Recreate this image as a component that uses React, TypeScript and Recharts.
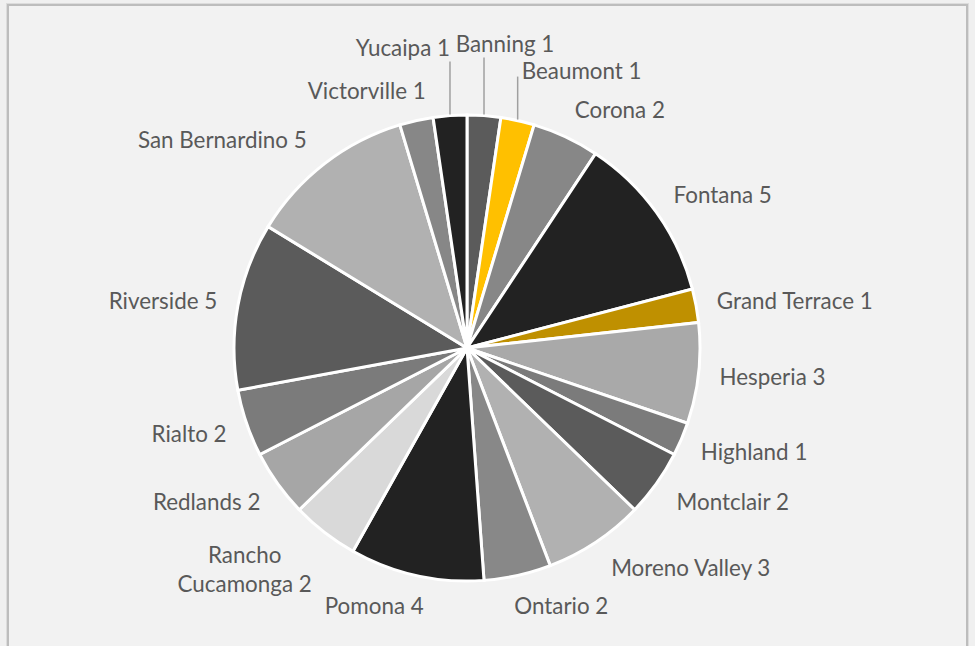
import React from 'react';
import { PieChart, Pie, Cell } from 'recharts';

const cities = [
  'Banning', 'Beaumont', 'Corona', 'Fontana', 'Grand Terrace', 'Hesperia', 'Highland',
  'Montclair', 'Moreno Valley', 'Ontario', 'Pomona', 'Rancho Cucamonga', 'Redlands',
  'Rialto', 'Riverside', 'San Bernardino', 'Victorville', 'Yucaipa',
];
const counts = [1, 1, 2, 5, 1, 3, 1, 2, 3, 2, 4, 2, 2, 2, 5, 5, 1, 1];
const sliceColors = [
  '#5b5b5b', '#ffc000', '#878787', '#222222', '#bf9000', '#a9a9a9', '#7b7b7b',
  '#5b5b5b', '#b1b1b1', '#888888', '#222222', '#d9d9d9', '#a6a6a6',
  '#7b7b7b', '#5b5b5b', '#b1b1b1', '#878787', '#222222',
];
const wrappedNames: Record<string, string[]> = { 'Rancho Cucamonga': ['Rancho', 'Cucamonga'] };

const data = cities.map((name, i) => ({ name, value: counts[i] }));

// label layout config (not data)
const FONT_FAMILY = 'Lato, sans-serif';
const FONT_SIZE = 22.4;
const LINE_H = 29;
const GAP = 21;
const TEXT_COLOR = '#595959';
const nudges: Record<string, number> = { Victorville: 14, Ontario: -8, Pomona: 12, 'San Bernardino': -5, 'Moreno Valley': 4, Montclair: 3 };
const leaders: Record<string, { lift: number; anchor: 'start' | 'middle' | 'end'; dx: number; gap: number }> = {
  Yucaipa: { lift: 68, anchor: 'end', dx: 0, gap: 14 },
  Banning: { lift: 72, anchor: 'middle', dx: 21, gap: 14 },
  Beaumont: { lift: 50, anchor: 'start', dx: 4, gap: 6 },
};

const RAD = Math.PI / 180;

let ctx: CanvasRenderingContext2D | null = null;
function measure(text: string): number {
  if (!ctx && typeof document !== 'undefined') {
    ctx = document.createElement('canvas').getContext('2d');
  }
  if (!ctx) return text.length * FONT_SIZE * 0.5;
  ctx.font = `${FONT_SIZE}px ${FONT_FAMILY}`;
  return ctx.measureText(text).width;
}

const renderLabel = (props: any) => {
  const { cx, cy, midAngle, outerRadius, index } = props;
  const name = cities[index];
  const value = counts[index];
  const c = Math.cos(-midAngle * RAD);
  const s = Math.sin(-midAngle * RAD);
  const textProps = {
    fill: TEXT_COLOR,
    fontFamily: FONT_FAMILY,
    fontSize: FONT_SIZE,
    dominantBaseline: 'central' as const,
  };
  const leader = leaders[name];
  if (leader) {
    const ex = cx + outerRadius * c;
    const ey = cy + outerRadius * s;
    const ly = ey - leader.lift;
    return (
      <g key={`lbl-${index}`}>
        <line x1={ex} y1={ey - 1} x2={ex} y2={ly + leader.gap} stroke="#a0a0a0" strokeWidth={1.5} />
        <text x={ex + leader.dx} y={ly} textAnchor={leader.anchor} {...textProps}>
          {`${name} ${value}`}
        </text>
      </g>
    );
  }
  const px = cx + (outerRadius + GAP) * c + (nudges[name] || 0);
  const py = cy + (outerRadius + GAP) * s;
  const lines = wrappedNames[name]
    ? [...wrappedNames[name].slice(0, -1), `${wrappedNames[name][wrappedNames[name].length - 1]} ${value}`]
    : [`${name} ${value}`];
  const n = lines.length;
  const shift = ((n * LINE_H) / 2 - 5) * s;
  const yc = py + shift;
  if (n === 1) {
    return (
      <text key={`lbl-${index}`} x={px} y={yc} textAnchor={c >= 0 ? 'start' : 'end'} {...textProps}>
        {lines[0]}
      </text>
    );
  }
  const w = Math.max(...lines.map(measure));
  const mx = c >= 0 ? px + w / 2 : px - w / 2;
  return (
    <text key={`lbl-${index}`} textAnchor="middle" {...textProps}>
      {lines.map((ln, i) => (
        <tspan key={i} x={mx} y={yc + (i - (n - 1) / 2) * LINE_H}>
          {ln}
        </tspan>
      ))}
    </text>
  );
};

export default function App() {
  return (
    <div style={{ position: 'fixed', left: 0, top: 0, width: 975, height: 646, background: '#f0f0f0', overflow: 'hidden' }}>
      <div
        style={{
          position: 'absolute', left: 6, top: 3, width: 963, height: 720,
          border: '1px solid #dcdcdc', boxSizing: 'border-box',
        }}
      />
      <div
        style={{
          position: 'absolute', left: 7, top: 4, width: 961, height: 720,
          border: '2px solid #bdbdbd', background: '#f2f2f2', boxSizing: 'border-box',
        }}
      />
      <div style={{ position: 'absolute', left: 0, top: 0 }}>
        <PieChart width={975} height={646} margin={{ top: 0, right: 0, bottom: 0, left: 0 }}>
          <Pie
            data={data}
            dataKey="value"
            nameKey="name"
            cx={467}
            cy={348}
            outerRadius={233}
            startAngle={90}
            endAngle={-270}
            stroke="#ffffff"
            strokeWidth={3}
            label={renderLabel}
            labelLine={false}
            isAnimationActive={false}
          >
            {data.map((d, i) => (
              <Cell key={d.name} fill={sliceColors[i]} />
            ))}
          </Pie>
        </PieChart>
      </div>
    </div>
  );
}
